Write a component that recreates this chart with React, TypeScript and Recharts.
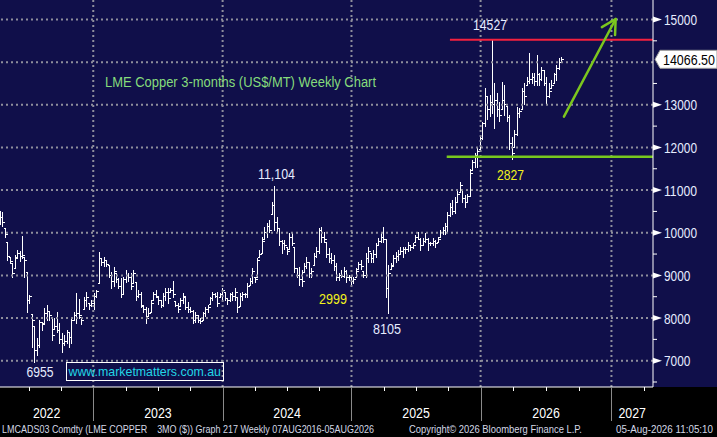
import { ComposedChart, Bar, XAxis, YAxis, ReferenceLine } from "recharts"

// weekly LME copper bars (US$/t)
const weekHigh = [
  10510, 10480, 10110, 9760, 9430, 9290, 9480, 9600, 9580, 9920,
  9420, 9060, 8550, 8080, 7790, 7530, 7950, 7900, 8240, 8310,
  8150, 8000, 8000, 8140, 7880, 7650, 7600, 7720, 7670, 8020,
  8140, 8590, 8450, 8020, 8490, 8610, 8350, 8420, 8590, 8650,
  9550, 9410, 9430, 9360, 9240, 9080, 9200, 9050, 8940, 8940,
  8960, 9120, 9050, 9050, 9120, 8840, 8660, 8610, 8260, 8260,
  8240, 8420, 8610, 8660, 8470, 8420, 8590, 8700, 8700, 8700,
  8860, 8380, 8350, 8470, 8590, 8490, 8380, 8260, 8190, 8140,
  8070, 8000, 8140, 8260, 8310, 8490, 8610, 8590, 8610, 8590,
  8700, 8590, 8470, 8590, 8610, 8700, 8490, 8590, 8610, 8590,
  8820, 8940, 9170, 8960, 9410, 9600, 9900, 10130, 10230, 10300,
  10720, 11104, 10370, 10110, 9830, 9830, 9660, 9990, 9990, 9660,
  9170, 9200, 9120, 9290, 9430, 9310, 9170, 9520, 9660, 10110,
  10130, 10020, 9780, 9640, 9520, 9480, 9290, 9060, 9120, 9200,
  9120, 9010, 9010, 8960, 9170, 9310, 9360, 9080, 9520, 9660,
  9520, 9590, 9760, 9880, 10020, 10130, 9830, 9240, 9290, 9480,
  9550, 9590, 9660, 9660, 9660, 9780, 9710, 9760, 9950, 10020,
  9880, 9880, 9990, 9880, 9780, 9880, 9830, 9900, 10060, 10130,
  10230, 10490, 10700, 10760, 10840, 11000, 11190, 11000, 10880, 10900,
  11500, 11700, 11870, 11990, 12250, 12600, 13400, 13190, 13230, 14527,
  13500, 13270, 13060, 13540, 13470, 12950, 12760, 12250, 12410, 12950,
  12920, 13400, 13510, 13650, 14210, 13740, 13740, 14170, 13740, 13890,
  13820, 13650, 13510, 13580, 13740, 13930, 14100, 14120,
]

const weekLow = [
  10200, 10150, 9900, 9360, 9290, 8960, 9170, 9410, 9330, 9400,
  8940, 8120, 8350, 7300, 6955, 7130, 7320, 7700, 7880, 7950,
  7950, 7480, 7720, 7650, 7410, 7200, 7360, 7410, 7320, 7410,
  7950, 7880, 8000, 7840, 8190, 8260, 8200, 8260, 8190, 8480,
  8820, 9240, 9200, 9200, 8940, 8700, 8730, 8830, 8700, 8470,
  8560, 8840, 8850, 8660, 8820, 8420, 8490, 8240, 8140, 7880,
  8030, 8140, 8420, 8470, 8310, 8240, 8260, 8420, 8350, 8590,
  8470, 8260, 8140, 8260, 8350, 8190, 8140, 8120, 7880, 7900,
  7900, 7880, 7950, 8030, 8140, 8310, 8420, 8470, 8260, 8470,
  8420, 8420, 8310, 8380, 8420, 8420, 8140, 8260, 8420, 8470,
  8470, 8770, 8820, 8840, 8960, 9410, 9520, 9830, 9900, 10000,
  10420, 10050, 10020, 9710, 9520, 9600, 9480, 9600, 9710, 9060,
  8960, 8770, 8730, 9060, 9170, 8960, 8940, 9240, 9410, 9520,
  9780, 9780, 9430, 9310, 9290, 9120, 8890, 8890, 8940, 8940,
  8840, 8890, 8770, 8820, 8940, 9130, 9130, 8960, 8960, 9310,
  9310, 9310, 9430, 9710, 9760, 9760, 8490, 8105, 9130, 9240,
  9310, 9360, 9480, 9430, 9520, 9550, 9590, 9640, 9760, 9830,
  9590, 9710, 9760, 9590, 9710, 9710, 9660, 9780, 9880, 9950,
  9950, 10000, 10370, 10420, 10460, 10700, 10950, 10700, 10600, 10700,
  10850, 11470, 11540, 11520, 11940, 12180, 12480, 12650, 12720, 12800,
  12450, 12720, 12600, 12880, 12760, 12600, 11940, 11720, 12010, 12290,
  12710, 12880, 13000, 13460, 13510, 13510, 13460, 13460, 13460, 13580,
  13460, 13040, 13180, 13390, 13510, 13580, 13820, 14000,
]

const weekClose = [
  10350, 10250, 9950, 9450, 9320, 9050, 9400, 9520, 9450, 9470,
  9350, 8400, 8500, 7950, 7250, 7350, 7900, 7850, 8100, 8150,
  8050, 7600, 7800, 7700, 7500, 7400, 7450, 7650, 7550, 7950,
  8050, 8100, 8050, 7950, 8420, 8480, 8300, 8350, 8500, 8620,
  9400, 9300, 9350, 9250, 9000, 8850, 9100, 8900, 8750, 8550,
  8900, 9000, 8950, 8750, 9050, 8500, 8550, 8300, 8200, 8000,
  8100, 8350, 8550, 8500, 8400, 8300, 8500, 8600, 8450, 8650,
  8550, 8300, 8200, 8400, 8500, 8250, 8200, 8150, 7950, 8050,
  7950, 7920, 8100, 8200, 8250, 8450, 8550, 8500, 8350, 8550,
  8650, 8450, 8400, 8550, 8500, 8600, 8250, 8500, 8550, 8550,
  8750, 8850, 9100, 8900, 9350, 9500, 9800, 10000, 10150, 10050,
  10650, 10250, 10100, 9800, 9750, 9700, 9550, 9900, 9750, 9150,
  9000, 8900, 8850, 9200, 9300, 9050, 9100, 9450, 9550, 10050,
  9900, 9850, 9500, 9400, 9350, 9200, 8950, 9000, 8980, 9100,
  8950, 8950, 8850, 8900, 9100, 9250, 9200, 9000, 9400, 9550,
  9400, 9500, 9700, 9800, 9900, 9850, 8700, 9050, 9200, 9400,
  9450, 9500, 9550, 9600, 9600, 9700, 9650, 9700, 9900, 9850,
  9700, 9800, 9850, 9750, 9750, 9800, 9750, 9850, 10000, 10050,
  10150, 10400, 10600, 10500, 10700, 10900, 11100, 10800, 10700, 10850,
  11400, 11650, 11800, 11900, 12200, 12550, 13200, 12900, 13050, 13000,
  13100, 12900, 12750, 13100, 13000, 12700, 12100, 11850, 12300, 12800,
  12850, 13300, 13200, 13550, 13600, 13650, 13550, 13700, 13600, 13800,
  13500, 13200, 13300, 13450, 13700, 13850, 14000, 14066.5,
]

const firstOpen = 10450
const lastPrice = 14066.5
const resistance = 14527
const support = 11781

const yearNames = ["2022", "2023", "2024", "2025", "2026", "2027"]
// week index at which 2023 .. 2027 start
const yearStarts = [37.7, 90.0, 142.1, 194.3, 247.2]
const priceTicks = [7000, 8000, 9000, 10000, 11000, 12000, 13000, 14000, 15000]

const X_END = 264
const PLOT_BOTTOM = 387
const AXIS_X = 653
const FONT = "'Liberation Sans', Arial, sans-serif"
const NAVY = "#100f4a"
const GRID = "#8e8e9c"
const LABEL = "#e6ecff"

const rows = weekClose.map((c, i) => {
  const prev = i === 0 ? firstOpen : weekClose[i - 1]
  const open = Math.min(weekHigh[i], Math.max(weekLow[i], prev))
  return { w: i, open, high: weekHigh[i], low: weekLow[i], close: c, range: [weekLow[i], weekHigh[i]] }
})

// x axis: quarter ticks, year separators, year labels at mid-year
const tickInfo = new Map<string, { label?: string; boundary?: boolean; quarter?: boolean }>()
const k = (v: number) => v.toFixed(2)
const addTick = (v: number, info: any) => {
  const prev = tickInfo.get(k(v)) || {}
  tickInfo.set(k(v), { ...prev, ...info })
}
const qStep = (yearStarts[1] - yearStarts[0]) / 4
for (let t = yearStarts[0] - qStep; t > 0; t -= qStep) addTick(t, { quarter: true })
yearStarts.forEach((s, i) => {
  const e = yearStarts[i + 1] ?? s + 4 * qStep
  for (let q = 0; q < 4; q++) {
    const t = s + (q * (e - s)) / 4
    if (t < X_END) addTick(t, q === 0 ? { boundary: true } : { quarter: true })
  }
})
const bounds = [0, ...yearStarts, X_END]
yearNames.forEach((name, i) => addTick((bounds[i] + bounds[i + 1]) / 2, { label: name }))
const xTicks = Array.from(tickInfo.keys()).map(Number).sort((a, b) => a - b)

const yTicks: number[] = []
for (let v = 6500; v <= 15000; v += 500) yTicks.push(v)

function OhlcBar(props: any) {
  const { x, y, width, height, payload } = props
  if (x == null || y == null) return null
  const cx = Math.round(x + width / 2) + 0.5
  const top = Math.min(y, y + height)
  const bot = Math.max(y, y + height)
  const span = payload.high - payload.low || 1
  const yo = top + ((payload.high - payload.open) / span) * (bot - top)
  const yc = top + ((payload.high - payload.close) / span) * (bot - top)
  return (
    <g stroke="#ffffff" strokeWidth={1} shapeRendering="crispEdges">
      <line x1={cx} x2={cx} y1={top} y2={bot + 0.5} />
      <line x1={cx - 2} x2={cx} y1={yo} y2={yo} />
      <line x1={cx} x2={cx + 2} y1={yc} y2={yc} />
    </g>
  )
}

function YearTick(props: any) {
  const { x, payload } = props
  const info = tickInfo.get(k(payload.value)) || {}
  const px = Math.round(x) + 0.5
  return (
    <g>
      {info.boundary && <line x1={px} x2={px} y1={PLOT_BOTTOM} y2={PLOT_BOTTOM + 34} stroke="#8a8a8a" />}
      {info.quarter && <line x1={px} x2={px} y1={PLOT_BOTTOM} y2={PLOT_BOTTOM + 4} stroke="#ffffff" />}
      {info.label && (
        <text x={x} y={PLOT_BOTTOM + 31} textAnchor="middle" fill="#ffffff" fontSize={14.5} fontFamily={FONT}
          textLength={27.5} lengthAdjust="spacingAndGlyphs">
          {info.label}
        </text>
      )}
    </g>
  )
}

function PriceTick(props: any) {
  const { y, payload } = props
  const v = payload.value
  if (v % 1000 !== 0) {
    return <line x1={AXIS_X} x2={AXIS_X + 4} y1={y} y2={y} stroke="#ffffff" />
  }
  // the last-price tag sits over the nearest round level
  if (Math.abs(v - lastPrice) < 400) return <g />
  return (
    <g>
      <polygon points={`${AXIS_X},${y - 3} ${AXIS_X + 9},${y} ${AXIS_X},${y + 3}`} fill="#ffffff" />
      <text x={AXIS_X + 11} y={y + 5.5} fill={LABEL} fontSize={14} fontFamily={FONT}
        textLength={6.6 * String(v).length} lengthAdjust="spacingAndGlyphs">
        {v}
      </text>
    </g>
  )
}

function PriceTag(props: any) {
  const vb = props.viewBox || {}
  const y = vb.y ?? 60
  const x0 = (vb.x ?? 0) + (vb.width ?? AXIS_X)
  return (
    <g>
      <polygon
        points={`${x0 + 2},${y} ${x0 + 7},${y - 9} 717,${y - 9} 717,${y + 9} ${x0 + 7},${y + 9}`}
        fill="#ffffff" stroke="#9a9a9a" strokeWidth={1}
      />
      <text x={x0 + 10} y={y + 5.5} fill="#000000" fontSize={14} fontFamily={FONT}
        textLength={52} lengthAdjust="spacingAndGlyphs">
        {props.text}
      </text>
    </g>
  )
}

function ArrowLine(props: any) {
  const { x1, y1, x2, y2 } = props
  const back = Math.atan2(y1 - y2, x1 - x2)
  const len = 16
  const wing = (a: number) => `${x2 + len * Math.cos(a)},${y2 + len * Math.sin(a)}`
  return (
    <g stroke="#7cc61e" strokeWidth={2.5} fill="none" strokeLinecap="round" strokeLinejoin="round">
      <line x1={x1} y1={y1} x2={x2} y2={y2} />
      <polyline points={`${wing(back + 0.55)} ${x2},${y2} ${wing(back - 0.45)}`} />
    </g>
  )
}

function Txt({ x, y, w, size = 14, fill = LABEL, children }: any) {
  return (
    <text x={x} y={y} fill={fill} fontSize={size} fontFamily={FONT} textLength={w} lengthAdjust="spacingAndGlyphs"
      style={{ whiteSpace: "pre" }}>
      {children}
    </text>
  )
}

export default function App() {
  return (
    <div style={{ position: "fixed", left: 0, top: 0, width: 717, height: 437, background: "#000000", overflow: "hidden" }}>
      <div style={{ position: "absolute", left: 0, top: 0, width: 717, height: PLOT_BOTTOM, background: NAVY }} />
      <div style={{ position: "absolute", left: 0, top: 0 }}>
        <ComposedChart width={717} height={437} data={rows} margin={{ top: 0, right: 0, bottom: 0, left: 0 }}>
          <XAxis
            dataKey="w"
            type="number"
            domain={[0, X_END]}
            ticks={xTicks}
            interval={0}
            height={50}
            axisLine={{ stroke: "#ffffff" }}
            tickLine={false}
            tick={<YearTick />}
            allowDataOverflow
          />
          <YAxis
            orientation="right"
            width={64}
            domain={[6383, 15457]}
            ticks={yTicks}
            interval={0}
            axisLine={{ stroke: "#ffffff" }}
            tickLine={false}
            tick={<PriceTick />}
            allowDataOverflow
          />
          {priceTicks.map((v) => (
            <ReferenceLine key={"h" + v} y={v} stroke={GRID} strokeWidth={2} strokeDasharray="2 3" />
          ))}
          {yearStarts.map((v) => (
            <ReferenceLine key={"v" + v} x={v} stroke={GRID} strokeWidth={2} strokeDasharray="2 3" />
          ))}
          <Bar dataKey="range" barSize={2} shape={<OhlcBar />} isAnimationActive={false} />
          <ReferenceLine
            segment={[{ x: 181.9, y: resistance }, { x: X_END, y: resistance }]}
            stroke="#f5213f"
            strokeWidth={2}
          />
          <ReferenceLine
            segment={[{ x: 180.6, y: support }, { x: X_END, y: support }]}
            stroke="#78c81e"
            strokeWidth={2.5}
          />
          <ReferenceLine
            segment={[{ x: 228.0, y: 12721 }, { x: 248.9, y: 15012 }]}
            shape={(p: any) => <ArrowLine {...p} />}
          />
          <ReferenceLine y={lastPrice} stroke="none" label={<PriceTag text="14066.50" />} />
        </ComposedChart>
      </div>
      <svg width={717} height={437} style={{ position: "absolute", left: 0, top: 0, pointerEvents: "none" }}>
        <Txt x={105} y={87} w={271} fill="#86dc7c">LME Copper 3-months (US$/MT) Weekly Chart</Txt>
        <Txt x={473} y={29.5} w={34}>14527</Txt>
        <Txt x={258} y={178.5} w={37}>11,104</Txt>
        <Txt x={26.5} y={377} w={27}>6955</Txt>
        <Txt x={319} y={304} w={28} fill="#f2f21c">2999</Txt>
        <Txt x={373} y={334} w={28}>8105</Txt>
        <Txt x={497} y={180} w={27} fill="#f2f21c">2827</Txt>
        <rect x={66.5} y={362.5} width={157} height={18} fill="none" stroke="#ffffff" strokeWidth={1} />
        <Txt x={68.5} y={376} w={152.5} size={13} fill="#22d6e6">www.marketmatters.com.au</Txt>
        <Txt x={2} y={432.5} w={372} size={10.5} fill="#d4d8e6">
          {"LMCADS03 Comdty (LME COPPER    3MO ($)) Graph 217 Weekly 07AUG2016-05AUG2026"}
        </Txt>
        <Txt x={409} y={432.5} w={173} size={10.5} fill="#d4d8e6">Copyright© 2026 Bloomberg Finance L.P.</Txt>
        <Txt x={616} y={432.5} w={97} size={10.5} fill="#d4d8e6">05-Aug-2026 11:05:10</Txt>
      </svg>
    </div>
  )
}
